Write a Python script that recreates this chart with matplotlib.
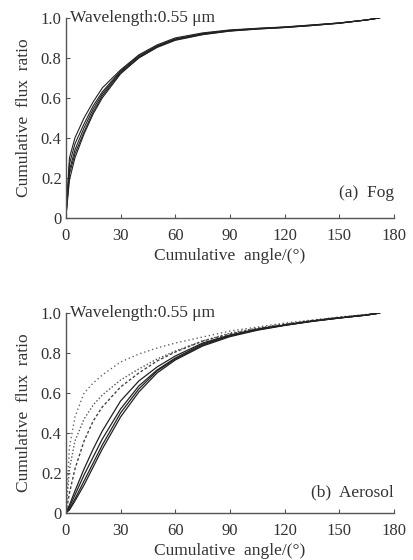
import matplotlib
matplotlib.use("Agg")
import matplotlib.pyplot as plt

plt.rcParams['font.family'] = ['Liberation Serif', 'DejaVu Serif']
plt.rcParams['mathtext.fontset'] = 'stix'

# angles (deg) shared by all curves
angulos = [0, 2, 5, 10, 15, 20, 30, 40, 50, 60, 75, 90, 105, 120, 135, 150, 165, 172]

# (a) Fog - five nearly overlapping curves
nevoa_1 = [0, 0.30, 0.40, 0.50, 0.58, 0.65, 0.74, 0.815, 0.865, 0.90, 0.925, 0.94, 0.948, 0.955, 0.965, 0.975, 0.99, 1.0]
nevoa_2 = [0, 0.27, 0.37, 0.47, 0.56, 0.63, 0.735, 0.81, 0.86, 0.895, 0.922, 0.938, 0.947, 0.954, 0.964, 0.975, 0.99, 1.0]
nevoa_3 = [0, 0.24, 0.34, 0.45, 0.545, 0.62, 0.73, 0.805, 0.858, 0.893, 0.92, 0.936, 0.946, 0.953, 0.963, 0.974, 0.99, 1.0]
nevoa_4 = [0, 0.22, 0.32, 0.43, 0.53, 0.61, 0.725, 0.80, 0.855, 0.89, 0.918, 0.935, 0.945, 0.952, 0.962, 0.974, 0.99, 1.0]
nevoa_5 = [0, 0.19, 0.30, 0.42, 0.52, 0.60, 0.72, 0.80, 0.852, 0.888, 0.916, 0.934, 0.944, 0.952, 0.962, 0.973, 0.99, 1.0]

# (b) Aerosol
aerossol_pont_1 = [0, 0.33, 0.48, 0.60, 0.65, 0.69, 0.755, 0.795, 0.825, 0.85, 0.88, 0.91, 0.93, 0.95, 0.965, 0.98, 0.993, 1.0]
aerossol_pont_2 = [0, 0.22, 0.36, 0.47, 0.54, 0.59, 0.665, 0.72, 0.77, 0.81, 0.86, 0.90, 0.925, 0.945, 0.962, 0.978, 0.992, 1.0]
aerossol_trac = [0, 0.10, 0.22, 0.36, 0.46, 0.53, 0.63, 0.70, 0.76, 0.805, 0.86, 0.895, 0.922, 0.943, 0.962, 0.978, 0.992, 1.0]
aerossol_1 = [0, 0.04, 0.11, 0.22, 0.32, 0.41, 0.56, 0.66, 0.73, 0.785, 0.85, 0.89, 0.92, 0.94, 0.96, 0.976, 0.99, 1.0]
aerossol_2 = [0, 0.03, 0.09, 0.19, 0.28, 0.37, 0.52, 0.635, 0.715, 0.775, 0.845, 0.887, 0.918, 0.94, 0.96, 0.976, 0.99, 1.0]
aerossol_3 = [0, 0.02, 0.07, 0.16, 0.25, 0.34, 0.50, 0.62, 0.71, 0.77, 0.84, 0.885, 0.916, 0.939, 0.959, 0.975, 0.99, 1.0]
aerossol_4 = [0, 0.015, 0.06, 0.14, 0.23, 0.32, 0.48, 0.605, 0.70, 0.765, 0.835, 0.882, 0.914, 0.938, 0.958, 0.975, 0.99, 1.0]

x_ticks = [0, 30, 60, 90, 120, 150, 180]
y_ticks = [0, 0.2, 0.4, 0.6, 0.8, 1.0]
y_tick_labels = ["0", "0.2", "0.4", "0.6", "0.8", "1.0"]

fig = plt.figure(figsize=(4.14, 5.6), dpi=100)
ax_a = fig.add_axes([0.159, 0.611, 0.793, 0.357])
ax_b = fig.add_axes([0.159, 0.084, 0.793, 0.357])

cor_eixo = "#555555"
cor_texto = "#333333"

def arrume(ax, rotulo, y_rotulo):
    ax.set_xlim(0, 180)
    ax.set_ylim(0, 1.0)
    ax.set_xticks(x_ticks)
    ax.set_yticks(y_ticks)
    ax.set_yticklabels(y_tick_labels)
    for lado in ["top", "right"]:
        ax.spines[lado].set_visible(False)
    for lado in ["left", "bottom"]:
        ax.spines[lado].set_color(cor_eixo)
        ax.spines[lado].set_linewidth(1.0)
    ax.tick_params(direction="in", length=3, width=0.8, color=cor_eixo,
                   labelsize=12, labelcolor=cor_texto)
    ax.tick_params(axis="x", pad=7)
    ax.tick_params(axis="y", pad=3)
    ax.set_xlabel("Cumulative  angle/(°)", fontsize=12.5, color=cor_texto, labelpad=3)
    ax.set_ylabel("Cumulative  flux  ratio", fontsize=12.5, color=cor_texto, labelpad=6)
    ax.text(2.5, 1.0, "Wavelength:0.55 μm", fontsize=12.5, color=cor_texto,
            ha="left", va="center")
    ax.text(180, y_rotulo, rotulo, fontsize=12.5, color=cor_texto, ha="right", va="center")

# Plote (a) Fog
for y in [nevoa_1, nevoa_2, nevoa_3, nevoa_4, nevoa_5]:
    ax_a.plot(angulos, y, color="#222222", lw=0.8)
arrume(ax_a, "(a)  Fog", 0.125)

# Plote (b) Aerosol
ax_b.plot(angulos, aerossol_pont_1, color="#666666", lw=1.0, linestyle=(0, (1, 2)))
ax_b.plot(angulos, aerossol_pont_2, color="#555555", lw=1.0, linestyle=(0, (1, 1.5)))
ax_b.plot(angulos, aerossol_trac, color="#444444", lw=1.0, linestyle=(0, (2, 1.5)))
for y in [aerossol_1, aerossol_2, aerossol_3, aerossol_4]:
    ax_b.plot(angulos, y, color="#222222", lw=0.9)
arrume(ax_b, "(b)  Aerosol", 0.105)

fig.savefig("out.png", dpi=100)
